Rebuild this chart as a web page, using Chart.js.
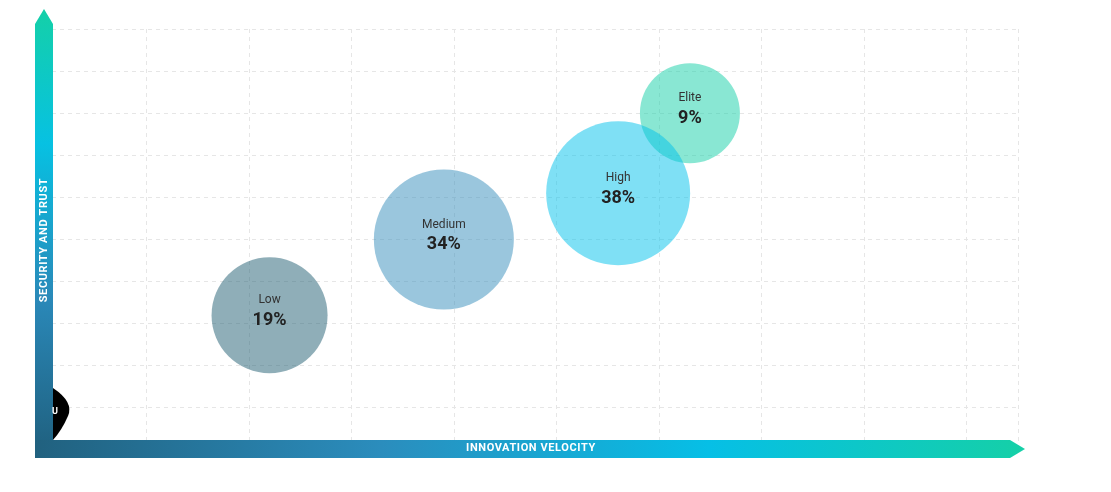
<!DOCTYPE html>
<html><head><meta charset="utf-8">
<script src="https://cdn.jsdelivr.net/npm/chart.js@4"></script>
<style>html,body{margin:0;padding:0;background:#fff}#w{width:1111px;height:492px;position:relative}</style>
</head><body><div id="w"><canvas id="c"></canvas></div>
<script>
const categories = ["Low", "Medium", "High", "Elite"];
const shares = [19, 34, 38, 9];
const xValues = [2.2, 3.9, 5.6, 6.3];
const yValues = [3.2, 5.0, 6.1, 8.0];
const radii = [58, 70, 72, 50];
const colors = ["rgba(31,94,114,0.5)", "rgba(53,141,187,0.5)", "rgba(0,194,236,0.5)", "rgba(20,208,168,0.5)"];

const datasets = categories.map((c, i) => ({
  label: c,
  data: [{x: xValues[i], y: yValues[i], r: radii[i]}],
  backgroundColor: colors[i],
  borderWidth: 0,
  hoverBorderWidth: 0
}));

const deco = {
  id: 'deco',
  afterDatasetsDraw(chart) {
    const ctx = chart.ctx;
    ctx.save();
    ctx.textAlign = 'center';
    chart.data.datasets.forEach((ds, i) => {
      const el = chart.getDatasetMeta(i).data[0];
      ctx.fillStyle = '#333';
      ctx.font = '12px Roboto';
      ctx.textBaseline = 'middle';
      ctx.fillText(ds.label, el.x, el.y - 15);
      ctx.fillStyle = '#222';
      ctx.font = 'bold 18px Roboto';
      ctx.fillText(shares[i] + '%', el.x, el.y + 5);
    });
    // black blob
    ctx.fillStyle = '#000';
    ctx.beginPath();
    ctx.moveTo(53, 388);
    ctx.quadraticCurveTo(74, 402, 68, 416);
    ctx.quadraticCurveTo(62, 430, 53, 440);
    ctx.closePath();
    ctx.fill();
    // vertical bar
    let g = ctx.createLinearGradient(0, 9, 0, 458);
    g.addColorStop(0, '#14d0a8');
    g.addColorStop(0.3, '#07c1e2');
    g.addColorStop(0.65, '#2a88b8');
    g.addColorStop(1, '#1f5f7d');
    ctx.fillStyle = g;
    ctx.beginPath();
    ctx.moveTo(35, 458); ctx.lineTo(35, 24); ctx.lineTo(44, 9); ctx.lineTo(53, 24); ctx.lineTo(53, 458);
    ctx.closePath(); ctx.fill();
    // horizontal bar
    g = ctx.createLinearGradient(35, 0, 1025, 0);
    g.addColorStop(0, '#21617f');
    g.addColorStop(0.35, '#2b8dbd');
    g.addColorStop(0.68, '#06bfe6');
    g.addColorStop(1, '#15d0a7');
    ctx.fillStyle = g;
    ctx.beginPath();
    ctx.moveTo(35, 440); ctx.lineTo(1010, 440); ctx.lineTo(1025, 449); ctx.lineTo(1010, 458); ctx.lineTo(35, 458);
    ctx.closePath(); ctx.fill();
    ctx.fillStyle = '#fff';
    ctx.font = 'bold 11px Roboto';
    ctx.textBaseline = 'middle';
    if ('letterSpacing' in ctx) ctx.letterSpacing = '0.6px';
    ctx.fillText('INNOVATION VELOCITY', 531, 448);
    ctx.save();
    ctx.translate(44, 240);
    ctx.rotate(-Math.PI / 2);
    ctx.fillText('SECURITY AND TRUST', 0, 0);
    ctx.restore();
    if ('letterSpacing' in ctx) ctx.letterSpacing = '0px';
    ctx.font = 'bold 9px Roboto';
    ctx.fillText('U', 55, 412);
    ctx.restore();
  }
};

new Chart(document.getElementById('c'), {
  type: 'bubble',
  data: {datasets},
  options: {
    responsive: true, maintainAspectRatio: false, animation: false,
    layout: {autoPadding: false, padding: {left: 44, right: 93, top: 29, bottom: 42}},
    plugins: {legend: {display: false}, tooltip: {enabled: false}},
    scales: {
      x: {min: 0, max: 9.5, ticks: {display: false, stepSize: 1}, border: {display: false, dash: [4,4]},
          grid: {color: '#e6e6e6', drawTicks: false}},
      y: {min: 0, max: 10, ticks: {display: false, stepSize: 1}, border: {display: false, dash: [4,4]},
          grid: {color: '#e6e6e6', drawTicks: false}}
    }
  },
  plugins: [deco]
});
</script></body></html>
